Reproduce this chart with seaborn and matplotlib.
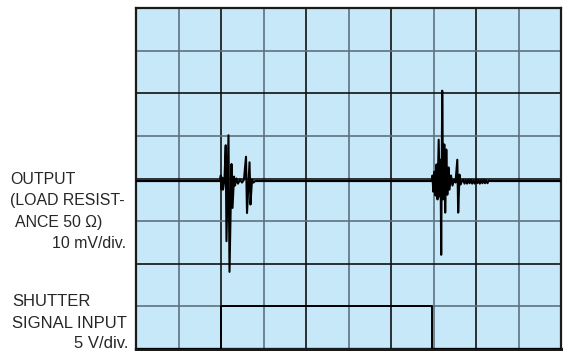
import seaborn as sns
import matplotlib.pyplot as plt
import pandas as pd

# time in divisions (10 div across), output in mV relative to trace baseline
burst1_t = [1.976, 1.995, 2.012, 2.031, 2.047, 2.082, 2.111, 2.129, 2.176, 2.200,
            2.247, 2.271, 2.306, 2.329, 2.365, 2.400, 2.447, 2.494, 2.541, 2.588,
            2.612, 2.671, 2.694, 2.729, 2.765, 2.800]
burst1_mv = [0.0, 1.3, -2.0, 0.8, -2.0, 0.35, 8.4, -14.1, 10.75, -21.3,
             4.0, -6.3, 1.05, -1.05, 0.6, -0.6, 0.35, -0.35, 0.35, 5.7,
             -7.5, 4.4, -5.5, 0.35, -0.35, 0.0]

burst2_t = [6.953, 6.976, 6.995, 7.019, 7.047, 7.071, 7.094, 7.122, 7.146, 7.165,
            7.181, 7.205, 7.228, 7.254, 7.275, 7.301, 7.325, 7.353, 7.376, 7.412,
            7.447, 7.482, 7.518, 7.560, 7.581, 7.612, 7.635, 7.671]
burst2_mv = [0.0, 1.3, -2.5, 2.2, -3.4, 3.9, -4.3, 9.7, -3.6, 5.0,
             -17.3, 21.2, -4.3, 8.6, -7.4, 7.4, -3.2, 3.2, -2.0, 1.3,
             -1.05, 0.35, -0.35, 5.0, -7.4, 1.5, -0.8, 0.0]

ring_t = [7.70, 7.73, 7.76, 7.79, 7.82, 7.85, 7.88, 7.91, 7.94, 7.97, 8.00,
          8.03, 8.06, 8.09, 8.12, 8.15, 8.18, 8.21, 8.24, 8.27, 8.30, 8.33]
ring_mv = [0.3, -0.6, 0.2, -0.6, 0.3, -0.5, 0.3, -0.6, 0.2, -0.6, 0.3,
           -0.5, 0.3, -0.6, 0.2, -0.5, 0.3, -0.5, 0.2, -0.5, 0.1, 0.0]

shutter_t = [0.0, 1.99, 1.99, 6.96, 6.96, 10.0]
shutter_v = [0, 0, 5, 5, 0, 0]

output_scale = 10   # mV/div
shutter_scale = 5   # V/div
output_zero = 3.94  # div

out_df = pd.DataFrame({
    't': [0.0] + burst1_t + burst2_t + ring_t + [10.0],
    'mv': [0.0] + burst1_mv + burst2_mv + ring_mv + [0.0],
})
out_df['y'] = output_zero + out_df['mv'] / output_scale

sh_df = pd.DataFrame({'t': shutter_t, 'v': shutter_v})
sh_df['y'] = sh_df['v'] / shutter_scale

sns.set_style('white')
plt.rcParams['font.family'] = ['Liberation Sans', 'DejaVu Sans']

W, H = 563, 351
fig = plt.figure(figsize=(W / 100, H / 100), dpi=100)
ax = fig.add_axes([136 / W, 2 / H, 425 / W, 341 / H])
ax.set_facecolor('#c7e8f8')

# graticule: even lines black, odd lines grey
for i in range(1, 10):
    ax.axvline(i, color='#111111' if i % 2 == 0 else '#5d7380', lw=1.2, zorder=1)
for j in range(1, 8):
    ax.axhline(j, color='#111111' if j % 2 == 0 else '#5d7380', lw=1.2, zorder=1)

sns.lineplot(data=out_df, x='t', y='y', sort=False, estimator=None,
             color='black', lw=1.5, ax=ax, zorder=3)
sns.lineplot(data=sh_df, x='t', y='y', sort=False, estimator=None,
             color='black', lw=1.4, ax=ax, zorder=3)

ax.set_xlim(0, 10)
ax.set_ylim(0, 8)
ax.set_xticks([])
ax.set_yticks([])
ax.set_xlabel('')
ax.set_ylabel('')
for s in ax.spines.values():
    s.set_color('#1a1a1a')
    s.set_linewidth(1.6)
ax.spines['bottom'].set_linewidth(2.4)

def label(x, y, txt, ha='left', fs=11.4):
    fig.text(x / W, 1 - y / H, txt, ha=ha, va='center', fontsize=fs)

label(10, 179, 'OUTPUT')
label(10, 200, '(LOAD RESIST-')
label(15, 222, 'ANCE 50 \u03a9)')
label(126, 244, '10 mV/div.', ha='right')

label(12, 302, 'SHUTTER', fs=12)
label(12, 323, 'SIGNAL INPUT', fs=12)
label(128, 343, '5 V/div.', ha='right', fs=12)

fig.savefig('out.png', dpi=100)
